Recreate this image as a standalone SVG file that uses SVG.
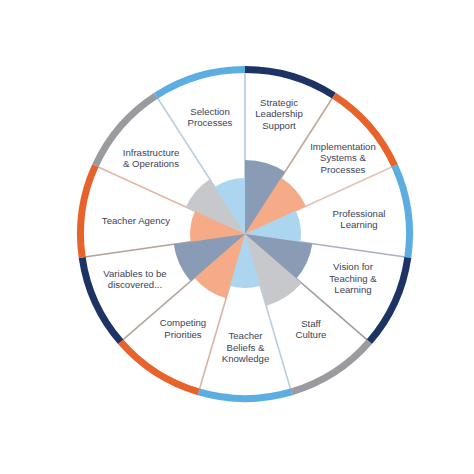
<svg xmlns="http://www.w3.org/2000/svg" width="474" height="474" viewBox="0 0 474 474">
<style>
.ring{fill:none;stroke-width:7;stroke-linecap:butt}
.navy{stroke:#1c3364}.orange{stroke:#e8622c}.lblue{stroke:#5badE2}.gray{stroke:#9a9b9f}
.slate{fill:#8a9bb5}.salmon{fill:#f5ab88}.sky{fill:#acd5f0}.lgray{fill:#c7c8cc}
.spoke{stroke-width:1.6;fill:none}
text{font-family:"Liberation Sans",Arial,sans-serif;font-size:9.6px;fill:#3c4259;text-anchor:middle}
</style>
<rect width="474" height="474" fill="#ffffff"/>
<g id="connectors">
<line class="spoke" x1="245" y1="234" x2="245" y2="72" stroke="#b5c9dc"/>
<line class="spoke" x1="245" y1="234" x2="332.58" y2="97.71" stroke="#bfa99b"/>
<line class="spoke" x1="245" y1="234" x2="392.36" y2="166.71" stroke="#e3c4b4"/>
<line class="spoke" x1="245" y1="234" x2="405.35" y2="257.05" stroke="#a8b0bf"/>
<line class="spoke" x1="245" y1="234" x2="367.42" y2="340.09" stroke="#9a9da3"/>
<line class="spoke" x1="245" y1="234" x2="290.64" y2="389.44" stroke="#b8cfe0"/>
<line class="spoke" x1="245" y1="234" x2="199.36" y2="389.44" stroke="#d5b5a5"/>
<line class="spoke" x1="245" y1="234" x2="122.58" y2="340.09" stroke="#b5a49c"/>
<line class="spoke" x1="245" y1="234" x2="84.65" y2="257.05" stroke="#b5a09a"/>
<line class="spoke" x1="245" y1="234" x2="97.64" y2="166.71" stroke="#e2b8a5"/>
<line class="spoke" x1="245" y1="234" x2="157.42" y2="97.71" stroke="#bccfdd"/>
</g>
<g id="strategic-leadership-support">
<path class="slate" d="M245,234 L245,160 A74,74 0 0 1 285.0,171.74 Z"/>
<path class="ring navy" d="M245,69.5 A164.5,164.5 0 0 1 333.93,95.61"/>
<text x="279" y="106">Strategic</text><text x="279" y="117.3">Leadership</text><text x="279" y="128.6">Support</text>
</g>
<g id="implementation-systems-processes">
<path class="salmon" d="M245,234 L281.22,177.63 A67,67 0 0 1 305.94,206.17 Z"/>
<path class="ring orange" d="M333.93,95.61 A164.5,164.5 0 0 1 394.63,165.67"/>
<text x="343" y="150">Implementation</text><text x="343" y="161.4">Systems &amp;</text><text x="343" y="172.7">Processes</text>
</g>
<g id="professional-learning">
<path class="sky" d="M245,234 L295.94,210.74 A56,56 0 0 1 300.43,241.97 Z"/>
<path class="ring lblue" d="M394.63,165.67 A164.5,164.5 0 0 1 407.82,257.41"/>
<text x="359" y="217">Professional</text><text x="359" y="228.4">Learning</text>
</g>
<g id="vision-teaching-learning">
<path class="slate" d="M245,234 L312.31,243.68 A68,68 0 0 1 296.39,278.53 Z"/>
<path class="ring navy" d="M407.82,257.41 A164.5,164.5 0 0 1 369.31,341.73"/>
<text x="353" y="270.4">Vision for</text><text x="353" y="281.8">Teaching &amp;</text><text x="353" y="293.2">Learning</text>
</g>
<g id="staff-culture">
<path class="lgray" d="M245,234 L301.68,283.12 A75,75 0 0 1 266.13,305.96 Z"/>
<path class="ring gray" d="M369.31,341.73 A164.5,164.5 0 0 1 291.34,391.84"/>
<text x="311" y="327">Staff</text><text x="311" y="338.4">Culture</text>
</g>
<g id="teacher-beliefs-knowledge">
<path class="sky" d="M245,234 L260.21,285.81 A54,54 0 0 1 229.79,285.81 Z"/>
<path class="ring lblue" d="M291.34,391.84 A164.5,164.5 0 0 1 198.66,391.84"/>
<text x="245.5" y="339.4">Teacher</text><text x="245.5" y="350.7">Beliefs &amp;</text><text x="245.5" y="362">Knowledge</text>
</g>
<g id="competing-priorities">
<path class="salmon" d="M245,234 L226.13,298.29 A67,67 0 0 1 194.37,277.88 Z"/>
<path class="ring orange" d="M198.66,391.84 A164.5,164.5 0 0 1 120.69,341.73"/>
<text x="183" y="326.4">Competing</text><text x="183" y="337.7">Priorities</text>
</g>
<g id="variables-to-be-discovered">
<path class="slate" d="M245,234 L190.59,281.15 A72,72 0 0 1 173.73,244.25 Z"/>
<path class="ring navy" d="M120.69,341.73 A164.5,164.5 0 0 1 82.18,257.41"/>
<text x="135" y="276.7">Variables to be</text><text x="135" y="288">discovered...</text>
</g>
<g id="teacher-agency">
<path class="salmon" d="M245,234 L190.56,241.83 A55,55 0 0 1 194.97,211.15 Z"/>
<path class="ring orange" d="M82.18,257.41 A164.5,164.5 0 0 1 95.37,165.67"/>
<text x="136" y="224">Teacher Agency</text>
</g>
<g id="infrastructure-operations">
<path class="lgray" d="M245,234 L185.88,207.0 A65,65 0 0 1 209.86,179.32 Z"/>
<path class="ring gray" d="M95.37,165.67 A164.5,164.5 0 0 1 156.07,95.61"/>
<text x="151" y="155.7">Infrastructure</text><text x="151" y="167">&amp; Operations</text>
</g>
<g id="selection-processes">
<path class="sky" d="M245,234 L214.73,186.89 A56,56 0 0 1 245,178 Z"/>
<path class="ring lblue" d="M156.07,95.61 A164.5,164.5 0 0 1 245,69.5"/>
<text x="210" y="114.5">Selection</text><text x="210" y="125.8">Processes</text>
</g>
</svg>
